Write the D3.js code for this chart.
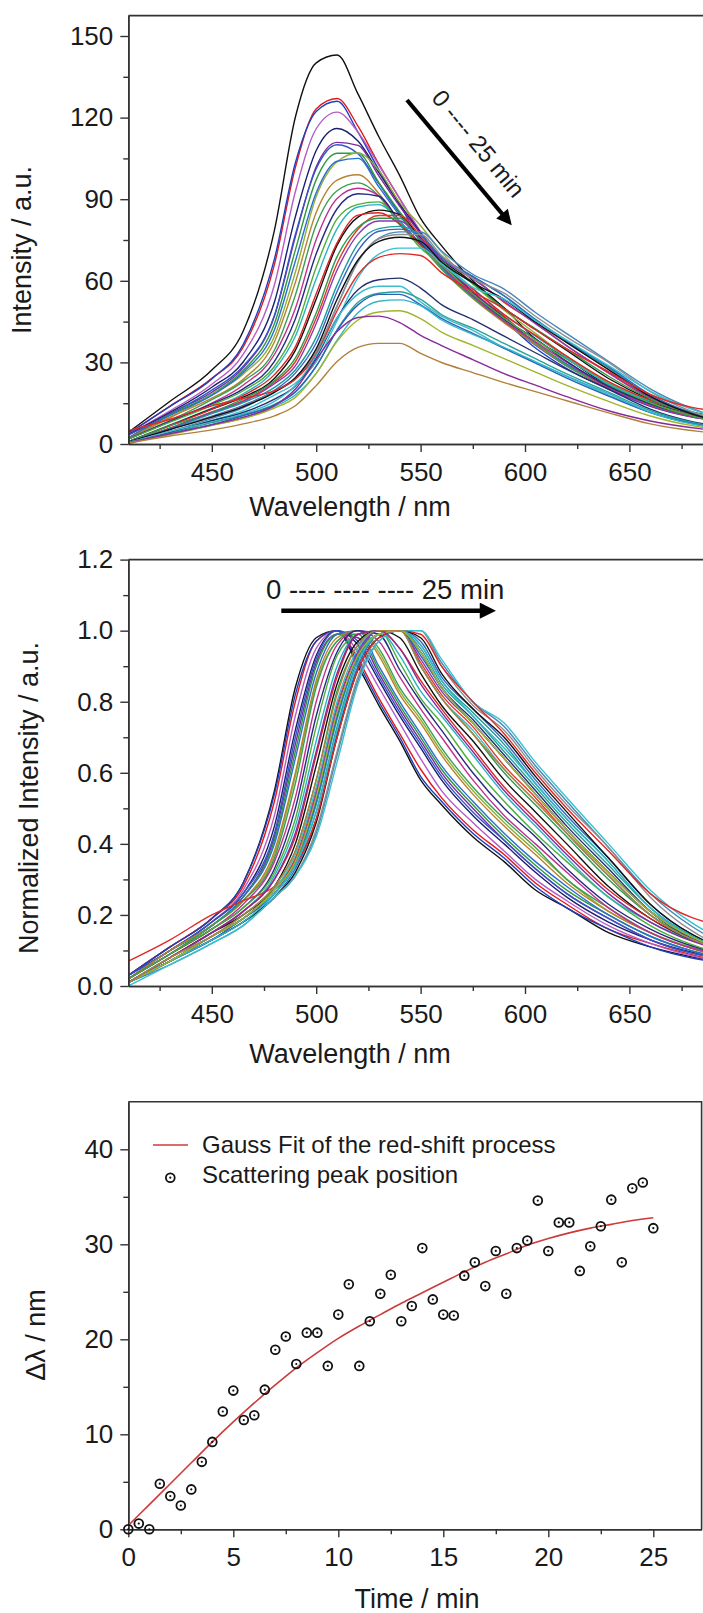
<!DOCTYPE html>
<html>
<head>
<meta charset="utf-8">
<script src="https://cdn.jsdelivr.net/npm/d3@7"></script>
<style>
  body { margin: 0; background: #fff; }
  svg { display: block; background: #fff; }
</style>
</head>
<body>
<svg id="chart" width="703" height="1613"></svg>
<script>
// wavelength grid (nm) the spectra were read at
const wavelengths = [410, 430, 450, 465, 480, 490, 500, 510, 520, 530, 540, 550, 560, 575, 590, 605, 620, 640, 660, 700];

// normalized spectra (middle panel), one row per measurement, 0 -> 25 min
const normSpectra = [
  [.03,.11,.19,.29,.55,.84,.98,1,.90,.79,.69,.58,.51,.42,.35,.27,.22,.15,.11,.06],
  [.03,.11,.19,.28,.52,.80,.97,1,.92,.81,.71,.61,.53,.44,.37,.29,.23,.16,.12,.06],
  [.03,.11,.19,.29,.54,.82,.97,1,.91,.80,.70,.59,.52,.43,.36,.28,.22,.16,.11,.06],
  [.03,.10,.18,.27,.48,.76,.95,1,.94,.84,.74,.64,.55,.46,.38,.30,.24,.17,.12,.06],
  [.03,.10,.18,.26,.45,.72,.93,1,.96,.86,.76,.67,.58,.48,.40,.32,.25,.18,.13,.07],
  [.02,.10,.17,.25,.42,.68,.91,.99,.98,.88,.78,.69,.60,.50,.41,.33,.26,.19,.13,.07],
  [.03,.10,.18,.26,.43,.70,.92,1,.97,.87,.77,.68,.59,.49,.41,.33,.26,.19,.13,.07],
  [.02,.10,.17,.25,.41,.66,.90,.99,.99,.89,.79,.70,.61,.51,.42,.34,.27,.20,.14,.07],
  [.02,.09,.17,.24,.37,.59,.85,.97,1,.94,.83,.75,.66,.55,.46,.38,.30,.21,.15,.08],
  [.02,.10,.17,.25,.40,.64,.88,.99,1,.90,.80,.71,.62,.52,.43,.35,.28,.20,.14,.07],
  [.02,.10,.17,.24,.38,.60,.86,.98,1,.93,.82,.74,.65,.54,.45,.37,.29,.21,.15,.07],
  [.02,.09,.17,.24,.36,.57,.84,.97,1,.95,.84,.76,.67,.56,.47,.39,.30,.22,.15,.08],
  [.02,.09,.16,.23,.35,.53,.80,.96,1,.97,.87,.78,.70,.58,.48,.40,.32,.22,.15,.08],
  [.02,.09,.16,.22,.33,.50,.76,.94,1,.99,.89,.80,.72,.60,.50,.42,.33,.23,.16,.08],
  [.02,.09,.16,.22,.32,.47,.73,.93,.99,1,.91,.81,.74,.62,.52,.43,.35,.25,.17,.08],
  [.01,.08,.15,.21,.31,.45,.69,.90,.99,1,.93,.83,.76,.65,.54,.45,.36,.25,.18,.09],
  [.01,.08,.15,.20,.28,.40,.62,.85,.97,1,.98,.88,.79,.69,.58,.49,.40,.28,.19,.09],
  [.01,.08,.15,.21,.30,.42,.65,.87,.99,1,.95,.86,.78,.67,.56,.47,.38,.27,.19,.09],
  [.01,.07,.14,.19,.27,.36,.55,.79,.94,1,1,.91,.82,.73,.62,.53,.43,.31,.20,.09],
  [.01,.08,.14,.20,.28,.38,.58,.83,.96,1,1,.90,.81,.71,.60,.51,.42,.30,.20,.09],
  [.01,.07,.14,.19,.27,.35,.54,.78,.94,1,1,.92,.83,.74,.64,.54,.44,.32,.21,.09],
  [.01,.07,.14,.19,.26,.34,.49,.73,.92,.99,1,.96,.86,.77,.68,.57,.47,.35,.22,.09],
  [.01,.07,.13,.18,.25,.33,.47,.71,.90,.99,1,.97,.87,.78,.69,.58,.48,.36,.23,.09],
  [.01,.06,.12,.17,.25,.31,.43,.65,.86,.97,1,1,.91,.80,.73,.62,.52,.39,.26,.10],
  [.01,.07,.13,.18,.25,.31,.44,.66,.87,.98,1,1,.90,.79,.72,.61,.51,.39,.25,.09],
  [.01,.07,.13,.18,.25,.32,.46,.70,.89,.98,1,.98,.88,.78,.70,.59,.49,.36,.23,.09],
  [.00,.06,.12,.17,.25,.31,.42,.63,.85,.97,1,1,.92,.80,.74,.63,.53,.40,.27,.11],
  [.07,.13,.20,.24,.28,.34,.47,.70,.89,.98,1,.99,.90,.80,.71,.60,.50,.38,.26,.16],
  [.01,.07,.14,.19,.27,.35,.52,.76,.93,.99,1,.94,.84,.75,.65,.55,.45,.33,.21,.09],
  [.01,.08,.14,.19,.27,.37,.56,.80,.95,1,1,.90,.81,.72,.61,.52,.43,.31,.20,.09],
  [.01,.07,.14,.19,.26,.34,.51,.75,.93,.99,1,.95,.85,.76,.66,.56,.46,.34,.22,.09],
  [.01,.07,.13,.19,.26,.35,.52,.76,.93,1,1,.93,.84,.74,.64,.54,.44,.32,.21,.09],
  [.01,.07,.13,.18,.26,.34,.49,.72,.91,.99,1,.96,.86,.76,.67,.57,.47,.35,.22,.09],
  [.01,.07,.14,.19,.27,.35,.53,.77,.93,.99,1,.94,.84,.74,.64,.54,.44,.32,.21,.09],
  [.01,.08,.15,.21,.30,.43,.66,.88,.99,1,.95,.85,.77,.66,.55,.46,.37,.26,.18,.09],
  [.01,.08,.14,.20,.28,.38,.58,.82,.96,1,1,.90,.81,.71,.61,.52,.43,.31,.20,.09]
];

// peak intensity (a.u.) of each spectrum in the top panel
const peakIntensity = [143, 127, 126, 122, 116, 112, 110, 108, 107, 105, 99, 96, 94, 92, 89, 88, 86, 85,
  84, 83, 82, 80, 79, 78, 77, 76, 72, 70, 61, 58, 56, 55, 53, 49, 47, 37];

const lineColors = ["#111111", "#e31a1c", "#1f3fbf", "#b45cc8", "#1b1f6e", "#7b2a9e", "#3355c8", "#2e9a3e",
  "#8fb03a", "#2a6fd0", "#b8822e", "#3aa055", "#c2308e", "#252a80", "#4caf3c", "#2ab3c4", "#111111",
  "#d92626", "#e03a2a", "#2e9a50", "#8a3ab8", "#1f9a9a", "#3566c4", "#4a86b8", "#8f8f8f", "#111111",
  "#37c2d2", "#e02a2a", "#23306e", "#3cbccc", "#2aa29a", "#2a62b8", "#32b5c8", "#a2b42a", "#8a2a9a", "#b0803c"];

// scattering peak shift vs time (bottom panel)
const times = [0, 0.5, 1, 1.5, 2, 2.5, 3, 3.5, 4, 4.5, 5, 5.5, 6, 6.5, 7, 7.5, 8, 8.5, 9, 9.5, 10,
  10.5, 11, 11.5, 12, 12.5, 13, 13.5, 14, 14.5, 15, 15.5, 16, 16.5, 17, 17.5, 18, 18.5, 19, 19.5, 20,
  20.5, 21, 21.5, 22, 22.5, 23, 23.5, 24, 24.5, 25];
const peakShift = [0, 0.6, 0, 4.8, 3.5, 2.5, 4.2, 7.1, 9.2, 12.4, 14.6, 11.5, 12.0, 14.7, 18.9, 20.3, 17.4,
  20.7, 20.7, 17.2, 22.6, 25.8, 17.2, 21.9, 24.8, 26.8, 21.9, 23.5, 29.6, 24.2, 22.6, 22.5, 26.7, 28.1,
  25.6, 29.3, 24.8, 29.6, 30.4, 34.6, 29.3, 32.3, 32.3, 27.2, 29.8, 31.9, 34.7, 28.1, 35.9, 36.5, 31.7];

// gauss fit of the red shift
const fitTimes = [0, 1, 2, 3, 4, 5, 6, 7, 8, 9, 10, 11, 12, 13, 14, 15, 16, 17, 18, 19, 20, 21, 22, 23, 24, 25];
const fitShift = [0.4, 2.6, 4.8, 7.0, 9.2, 11.3, 13.3, 15.2, 17.0, 18.6, 20.1, 21.4, 22.6, 23.8, 24.9, 26.0,
  27.1, 28.1, 29.0, 29.9, 30.6, 31.2, 31.7, 32.1, 32.5, 32.8];

// ticks
const wlTicks = [450, 500, 550, 600, 650];
const wlMinor = [425, 475, 525, 575, 625, 675];
const intTicks = [0, 30, 60, 90, 120, 150];
const intMinor = [15, 45, 75, 105, 135];
const normTicks = [0, 0.2, 0.4, 0.6, 0.8, 1.0, 1.2];
const normMinor = [0.1, 0.3, 0.5, 0.7, 0.9, 1.1];
const timeTicks = [0, 5, 10, 15, 20, 25];
const timeMinor = [2.5, 7.5, 12.5, 17.5, 22.5];
const shiftTicks = [0, 10, 20, 30, 40];
const shiftMinor = [5, 15, 25, 35];

const W = 703;
const axisColor = "#333";
const textColor = "#1a1a1a";
const font = "'Liberation Sans', Arial, sans-serif";

const svg = d3.select("#chart");

// scales
const xWave = d3.scaleLinear().domain([410, 700]).range([128.3, 733.8]);
const yInt = d3.scaleLinear().domain([0, 157.5]).range([444, 15.6]);
const yNorm = d3.scaleLinear().domain([0, 1.2]).range([986, 559.6]);
const xTime = d3.scaleLinear().domain([0, 27.3]).range([128.3, 701.6]);
const yShift = d3.scaleLinear().domain([0, 45]).range([1529.3, 1101.8]);

// clip areas for the spectra
const defs = svg.append("defs");
[["clip1", yInt], ["clip2", yNorm]].forEach(([id, y]) => {
  defs.append("clipPath").attr("id", id)
    .append("rect")
    .attr("x", xWave(410)).attr("y", y.range()[1])
    .attr("width", W - xWave(410)).attr("height", y.range()[0] - y.range()[1]);
});

// spectra
const spectra = normSpectra.map((row, i) => ({
  color: lineColors[i],
  norm: row.map((v, j) => [wavelengths[j], v]),
  abs: row.map((v, j) => [wavelengths[j], v * peakIntensity[i]])
}));

const lineInt = d3.line().x(d => xWave(d[0])).y(d => yInt(d[1])).curve(d3.curveMonotoneX);
const lineNorm = d3.line().x(d => xWave(d[0])).y(d => yNorm(d[1])).curve(d3.curveMonotoneX);

svg.append("g").attr("clip-path", "url(#clip1)")
  .selectAll("path")
  .data(spectra)
  .enter()
  .append("path")
  .attr("d", d => lineInt(d.abs))
  .attr("fill", "none")
  .attr("stroke", d => d.color)
  .attr("stroke-width", 1.4);

svg.append("g").attr("clip-path", "url(#clip2)")
  .selectAll("path")
  .data(spectra)
  .enter()
  .append("path")
  .attr("d", d => lineNorm(d.norm))
  .attr("fill", "none")
  .attr("stroke", d => d.color)
  .attr("stroke-width", 1.4);

// axes helper
function styleAxis(g) {
  g.select(".domain").attr("stroke", axisColor).attr("stroke-width", 1.6);
  g.selectAll(".tick line").attr("stroke", axisColor).attr("stroke-width", 1.4);
  g.selectAll(".tick text")
    .attr("fill", textColor)
    .style("font-family", font)
    .style("font-size", "26px");
  return g;
}

function bottomAxis(x, ticks, minor, y0, fmt) {
  styleAxis(svg.append("g")
    .attr("transform", `translate(0,${y0})`)
    .call(d3.axisBottom(x).tickValues(minor).tickSize(5).tickSizeOuter(0).tickFormat("")));
  const g = styleAxis(svg.append("g")
    .attr("transform", `translate(0,${y0})`)
    .call(d3.axisBottom(x).tickValues(ticks).tickSize(8).tickSizeOuter(0).tickFormat(fmt)));
  g.selectAll(".tick text").attr("y", 36.5).attr("dy", null);
}

function leftAxis(y, ticks, minor, fmt) {
  styleAxis(svg.append("g")
    .attr("transform", "translate(128.3,0)")
    .call(d3.axisLeft(y).tickValues(minor).tickSize(5).tickSizeOuter(0).tickFormat("")));
  styleAxis(svg.append("g")
    .attr("transform", "translate(128.3,0)")
    .call(d3.axisLeft(y).tickValues(ticks).tickSize(8).tickPadding(7).tickSizeOuter(0).tickFormat(fmt)));
}

// panel 1
bottomAxis(xWave, wlTicks, wlMinor, 444, d3.format("d"));
leftAxis(yInt, intTicks, intMinor, d3.format("d"));
// panel 2
bottomAxis(xWave, wlTicks, wlMinor, 986, d3.format("d"));
leftAxis(yNorm, normTicks, normMinor, d3.format(".1f"));
// panel 3
bottomAxis(xTime, timeTicks, timeMinor, 1529.3, d3.format("d"));
leftAxis(yShift, shiftTicks, shiftMinor, d3.format("d"));

// frame lines
svg.append("line").attr("x1", 128.3).attr("x2", W).attr("y1", yInt.range()[1]).attr("y2", yInt.range()[1])
  .attr("stroke", axisColor).attr("stroke-width", 1.6);
svg.append("line").attr("x1", 128.3).attr("x2", W).attr("y1", yNorm.range()[1]).attr("y2", yNorm.range()[1])
  .attr("stroke", axisColor).attr("stroke-width", 1.6);
svg.append("path")
  .attr("d", `M128.3,${yShift.range()[1]}H${xTime.range()[1]}V${yShift.range()[0]}`)
  .attr("fill", "none").attr("stroke", axisColor).attr("stroke-width", 1.6);

// axis titles
function title(txt, x, y, rotate) {
  svg.append("text")
    .attr("transform", `translate(${x},${y})` + (rotate ? " rotate(-90)" : ""))
    .attr("text-anchor", "middle")
    .style("font-family", font)
    .style("font-size", "27px")
    .attr("fill", textColor)
    .text(txt);
}
title("Intensity / a.u.", 31, 250, true);
title("Wavelength / nm", 350, 516, false);
title("Normalized Intensity / a.u.", 38, 798, true);
title("Wavelength / nm", 350, 1063, false);
title("\u0394\u03bb / nm", 45, 1335, true);
title("Time / min", 417, 1608, false);

// arrows with time notes
defs.append("marker")
  .attr("id", "head")
  .attr("viewBox", "0 0 10 10")
  .attr("refX", 2).attr("refY", 5)
  .attr("markerWidth", 4.4).attr("markerHeight", 3.6)
  .attr("orient", "auto")
  .append("path").attr("d", "M0,0L10,5L0,10Z").attr("fill", "#000");

svg.append("line")
  .attr("x1", 407).attr("y1", 100).attr("x2", 504).attr("y2", 216)
  .attr("stroke", "#000").attr("stroke-width", 4.2)
  .attr("marker-end", "url(#head)");
svg.append("text")
  .attr("transform", "translate(472,149) rotate(50.5)")
  .attr("text-anchor", "middle")
  .style("font-family", font).style("font-size", "24px")
  .attr("fill", textColor)
  .text("0 ---- 25 min");

svg.append("line")
  .attr("x1", 281.3).attr("y1", 610.7).attr("x2", 483).attr("y2", 610.7)
  .attr("stroke", "#000").attr("stroke-width", 4.5)
  .attr("marker-end", "url(#head)");
svg.append("text")
  .attr("x", 266).attr("y", 599)
  .style("font-family", font).style("font-size", "27.5px")
  .attr("fill", textColor)
  .text("0 ---- ---- ---- 25 min");

// bottom panel: fit and points
const fitLine = d3.line().x(d => xTime(d[0])).y(d => yShift(d[1])).curve(d3.curveMonotoneX);
svg.append("path")
  .attr("d", fitLine(fitTimes.map((t, i) => [t, fitShift[i]])))
  .attr("fill", "none").attr("stroke", "#cc3b3b").attr("stroke-width", 1.6);

const pts = svg.append("g")
  .selectAll("g")
  .data(times.map((t, i) => [t, peakShift[i]]))
  .enter()
  .append("g")
  .attr("transform", d => `translate(${xTime(d[0])},${yShift(d[1])})`);
pts.append("circle").attr("r", 4.4).attr("fill", "none").attr("stroke", "#111").attr("stroke-width", 1.8);
pts.append("circle").attr("r", 1.1).attr("fill", "#111");

// legend
const lg = svg.append("g");
lg.append("line").attr("x1", 153).attr("x2", 188).attr("y1", 1145).attr("y2", 1145)
  .attr("stroke", "#cc3b3b").attr("stroke-width", 1.6);
lg.append("text").attr("x", 202).attr("y", 1153)
  .style("font-family", font).style("font-size", "24px").attr("fill", textColor)
  .text("Gauss Fit of the red-shift process");
const lgPt = lg.append("g").attr("transform", "translate(170.3,1177.7)");
lgPt.append("circle").attr("r", 4.4).attr("fill", "none").attr("stroke", "#111").attr("stroke-width", 1.8);
lgPt.append("circle").attr("r", 1.1).attr("fill", "#111");
lg.append("text").attr("x", 202).attr("y", 1183)
  .style("font-family", font).style("font-size", "24px").attr("fill", textColor)
  .text("Scattering peak position");
</script>
</body>
</html>
